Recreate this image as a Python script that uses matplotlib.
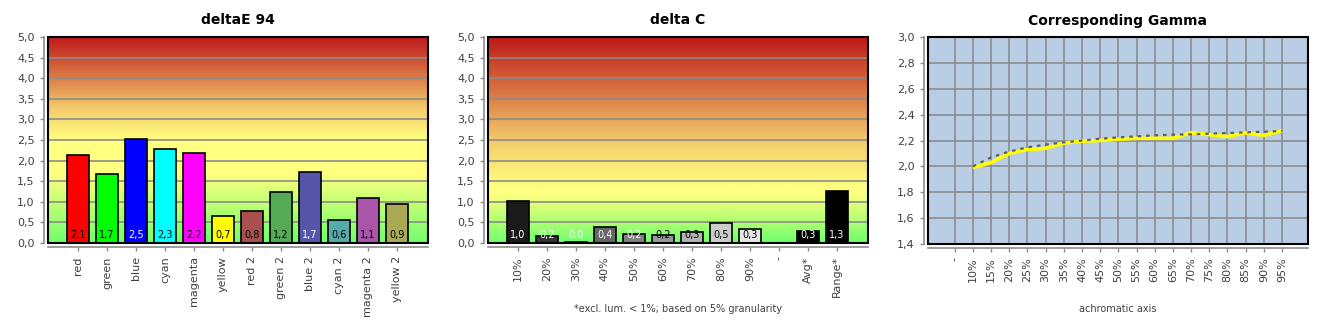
import numpy as np
import matplotlib
import matplotlib.pyplot as plt
from matplotlib.patches import Rectangle

matplotlib.use("Agg")

# --- data ---
de_cats = ["red", "green", "blue", "cyan", "magenta", "yellow",
           "red 2", "green 2", "blue 2", "cyan 2", "magenta 2", "yellow 2"]
de_vals = [2.13, 1.67, 2.52, 2.28, 2.18, 0.66, 0.78, 1.24, 1.72, 0.56, 1.09, 0.94]

dc_cats = ["10%", "20%", "30%", "40%", "50%", "60%", "70%", "80%", "90%",
           "-", "Avg*", "Range*"]
dc_vals = [1.02, 0.16, 0.03, 0.39, 0.22, 0.19, 0.26, 0.49, 0.34, None, 0.30, 1.27]

gm_cats = ["-", "10%", "15%", "20%", "25%", "30%", "35%", "40%", "45%", "50%",
           "55%", "60%", "65%", "70%", "75%", "80%", "85%", "90%", "95%"]
gm_measured = [None, 1.99, 2.03, 2.10, 2.13, 2.14, 2.18, 2.195, 2.20, 2.21,
               2.217, 2.217, 2.217, 2.26, 2.245, 2.23, 2.26, 2.24, 2.276]
gm_target = [None, 2.00, 2.07, 2.115, 2.147, 2.168, 2.186, 2.199, 2.214, 2.224,
             2.232, 2.24, 2.245, 2.248, 2.253, 2.258, 2.263, 2.268, 2.274]

de_colors = ["#ff0000", "#00ff00", "#0000ff", "#00ffff", "#ff00ff", "#ffff00",
             "#a85050", "#55aa55", "#5555aa", "#55aaaa", "#aa55aa", "#aaaa55"]
de_text = ["black", "black", "white", "black", "black", "black",
           "black", "black", "white", "black", "black", "black"]
dc_colors = ["#1a1a1a", "#333333", "#000000", "#666666", "#808080", "#999999",
             "#b3b3b3", "#cccccc", "#e6e6e6", "#ffffff", "#000000", "#000000"]
dc_text = ["white", "white", "white", "white", "white", "black",
           "black", "black", "black", "black", "white", "white"]

TXT = "#404040"
GRID = "#8c8c8c"


def fmt(v):
    return f"{v:.1f}".replace(".", ",")


def gradient(yellow_at, plateau):
    # green -> yellow -> orange -> red
    y_lo = yellow_at - plateau / 2
    y_hi = yellow_at + plateau / 2
    stops = [(0.0, (110, 255, 110)),
             (y_lo * 0.5, (185, 255, 115)),
             (y_lo, (255, 255, 128)),
             (y_hi, (255, 255, 128)),
             (y_hi + (5 - y_hi) * 0.3, (245, 205, 108)),
             (y_hi + (5 - y_hi) * 0.62, (218, 122, 70)),
             (5.0, (190, 25, 25))]
    ys = np.linspace(0, 5, 400)
    pos = [s[0] for s in stops]
    img = np.zeros((400, 1, 3))
    for c in range(3):
        img[:, 0, c] = np.interp(ys, pos, [s[1][c] for s in stops]) / 255
    return img


def style_axes(ax, frame_lw=1.5):
    for side in ["top", "right"]:
        ax.spines[side].set_visible(False)
    for side in ["left", "bottom"]:
        ax.spines[side].set_position(("outward", 3))
        ax.spines[side].set_color(GRID)
        ax.spines[side].set_linewidth(1.2)
    ax.tick_params(colors=GRID, labelcolor=TXT, labelsize=8, length=3, width=1)
    ax.tick_params(axis="x", labelrotation=90)
    ax.add_patch(Rectangle((0, 0), 1, 1, transform=ax.transAxes, fill=False,
                           ec="black", lw=frame_lw, zorder=10, clip_on=False))


def bar_panel(ax, title, cats, vals, colors, tcolors, yellow_at, plateau):
    n = len(cats)
    x = np.arange(n)
    xlim = (-1.03, n + 0.07)
    ax.imshow(gradient(yellow_at, plateau), extent=(xlim[0], xlim[1], 0, 5),
              origin="lower", aspect="auto", zorder=0, interpolation="bilinear")
    for yv in np.arange(0.5, 5.0, 0.5):
        ax.axhline(yv, color=GRID, lw=1.2, zorder=1)
    for i, v in enumerate(vals):
        if v is None:
            continue
        ax.bar(x[i], v, width=0.76, color=colors[i], edgecolor="black",
               linewidth=1.2, zorder=2)
        ax.text(x[i], 0.2, fmt(v), color=tcolors[i], ha="center",
                va="center", fontsize=7, zorder=3)
    ax.set_xlim(xlim)
    ax.set_ylim(0, 5)
    ax.set_xticks(x)
    ax.set_xticklabels(cats)
    ticks = np.arange(0, 5.01, 0.5)
    ax.set_yticks(ticks)
    ax.set_yticklabels([fmt(t) for t in ticks])
    ax.set_title(title, fontsize=10, fontweight="bold", pad=9)
    style_axes(ax)


fig = plt.figure(figsize=(13.3, 3.3), dpi=100)
W, H = 1330, 330
ax1 = fig.add_axes([48 / W, 1 - 243 / H, 380 / W, 206 / H])
ax2 = fig.add_axes([488 / W, 1 - 243 / H, 380 / W, 206 / H])
ax3 = fig.add_axes([928 / W, 1 - 244 / H, 380 / W, 207 / H])

bar_panel(ax1, "deltaE 94", de_cats, de_vals, de_colors, de_text, 2.1, 0.8)
bar_panel(ax2, "delta C", dc_cats, dc_vals, dc_colors, dc_text, 1.28, 0.15)
fig.text(678 / W, 1 - 309 / H, "*excl. lum. < 1%; based on 5% granularity",
         ha="center", va="center", fontsize=7, color=TXT)

# --- gamma panel ---
gx = np.arange(len(gm_cats))
ax3.set_facecolor("#b9cde4")
meas = np.array([np.nan if v is None else v for v in gm_measured])
targ = np.array([np.nan if v is None else v for v in gm_target])
ax3.plot(gx, meas, color="#ffff00", lw=2.6, zorder=3, solid_capstyle="butt")
ax3.plot(gx, targ, color="#606060", lw=1.6, linestyle=(0, (1.6, 2.2)), zorder=4)
ax3.set_xlim(-1.47, len(gm_cats) + 0.43)
ax3.set_ylim(1.4, 3.0)
ax3.set_xticks(gx)
ax3.set_xticklabels(gm_cats)
gt = np.arange(1.4, 3.001, 0.2)
ax3.set_yticks(gt)
ax3.set_yticklabels([fmt(t) for t in gt])
ax3.grid(True, color=GRID, lw=1.2, zorder=1)
ax3.set_axisbelow(True)
ax3.set_title("Corresponding Gamma", fontsize=10, fontweight="bold", pad=9)
style_axes(ax3)
fig.text(1118 / W, 1 - 309 / H, "achromatic axis", ha="center", va="center",
         fontsize=7, color=TXT)

plt.savefig("out.png", dpi=100)
plt.close()
